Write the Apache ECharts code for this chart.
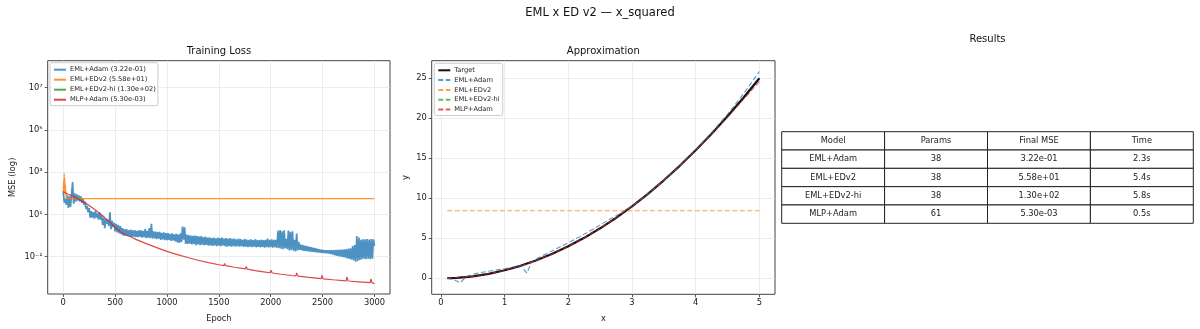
<!DOCTYPE html>
<html><head><meta charset="utf-8">
<script src="https://cdn.jsdelivr.net/npm/echarts@6/dist/echarts.min.js"></script>
<style>html,body{margin:0;padding:0;background:#fff}#c{width:1200px;height:329px}</style>
</head><body><div id="c"></div>
<script>
// ---------------- DATA ----------------
// Table / models
const tableColumns = ['Model', 'Params', 'Final MSE', 'Time'];
const tableModels = ['EML+Adam', 'EML+EDv2', 'EML+EDv2-hi', 'MLP+Adam'];
const tableParams = ['38', '38', '38', '61'];
const tableFinalMSE = ['3.22e-01', '5.58e+01', '1.30e+02', '5.30e-03'];
const tableTime = ['2.3s', '5.4s', '5.8s', '0.5s'];

// Training loss (log10 of MSE)
const epochTicks = [0, 500, 1000, 1500, 2000, 2500, 3000];
const lossLogTicks = [-1, 1, 3, 5, 7];
// EML+Adam sampled every 10 epochs (oscillating band: alternating upper / lower envelope)
const emlAdamLog10MSE = [
 2.08, 1.55, 1.75, 1.45, 1.9, 1.3, 1.85, 1.35, 1.95, 2.53,
 1.5, 2.0, 1.6, 1.95, 1.65, 1.9, 1.6, 1.85, 1.55, 1.75,
 1.45, 1.6, 1.25, 1.4, 1.1, 1.3, 0.85, 1.15, 0.85, 1.1,
 0.8, 1.15, 0.85, 1.05, 0.75, 1.1, 0.75, 0.95, 0.5, 0.85,
 0.35, 0.8, 0.55, 0.75, 0.45, 1.1, 0.3, 0.7, 0.4, 0.6,
 0.2, 0.55, 0.15, 0.5, 0.1, 0.45, 0.05, 0.35, 0.0, 0.3,
 0.0, 0.3, -0.03, 0.26, -0.05, 0.28, -0.06, 0.24, -0.05, 0.26,
 -0.07, 0.22, -0.08, 0.24, -0.06, 0.25, -0.1, 0.22, -0.08, 0.3,
 -0.12, 0.22, -0.1, 0.35, -0.12, 0.55, -0.14, 0.2, -0.13, 0.18,
 -0.17, 0.16, -0.15, 0.18, -0.2, 0.13, -0.18, 0.15, -0.22, 0.12,
 -0.22, 0.12, -0.2, 0.08, -0.25, 0.1, -0.23, 0.06, -0.28, 0.08,
 -0.32, 0.05, -0.35, 0.1, -0.3, 0.42, -0.2, 0.39, -0.4, 0.05,
 -0.4, 0.02, -0.38, 0.0, -0.42, -0.02, -0.4, 0.0, -0.45, -0.03,
 -0.42, -0.05, -0.45, -0.03, -0.43, -0.08, -0.46, -0.05, -0.44, -0.1,
 -0.48, -0.08, -0.46, -0.12, -0.49, -0.1, -0.47, -0.13, -0.5, -0.1,
 -0.48, -0.12, -0.5, -0.1, -0.47, -0.15, -0.5, -0.12, -0.52, -0.14,
 -0.5, -0.12, -0.52, -0.16, -0.5, -0.14, -0.53, -0.18, -0.5, -0.15,
 -0.52, -0.17, -0.5, -0.2, -0.54, -0.16, -0.52, -0.19, -0.55, -0.2,
 -0.53, -0.18, -0.55, -0.22, -0.52, -0.18, -0.56, -0.2, -0.54, -0.22,
 -0.56, -0.19, -0.54, -0.22, -0.57, -0.2, -0.55, -0.15, -0.56, -0.2,
 -0.55, -0.18, -0.57, -0.21, -0.55, -0.2, -0.58, 0.22, -0.6, 0.26,
 -0.62, 0.2, -0.65, 0.25, -0.6, -0.15, -0.65, 0.24, -0.7, 0.18,
 -0.68, 0.2, -0.72, -0.2, -0.75, 0.1, -0.7, -0.3, -0.68, -0.42,
 -0.7, -0.45, -0.72, -0.48, -0.74, -0.5, -0.75, -0.53, -0.76, -0.55,
 -0.77, -0.58, -0.78, -0.6, -0.79, -0.63, -0.8, -0.65, -0.81, -0.67,
 -0.82, -0.68, -0.83, -0.7, -0.84, -0.7, -0.85, -0.7, -0.87, -0.69,
 -0.9, -0.69, -0.93, -0.68, -0.96, -0.68, -0.98, -0.67, -1.0, -0.66,
 -1.02, -0.65, -1.05, -0.64, -1.08, -0.62, -1.1, -0.6, -1.14, -0.5,
 -1.18, -0.45, -1.24, -0.02, -1.2, -0.1, -1.15, -0.2, -1.12, -0.18,
 -1.1, -0.18, -1.12, -0.17, -1.1, -0.19, -1.12, -0.17, -1.1, -0.18,
 -0.49
];
const emlAdamEpochStep = 10;
const emlEdv2Epochs = [0, 3, 6, 9, 12, 15, 18, 21, 24, 27, 30, 40, 3000];
const emlEdv2Log10MSE = [2.05, 2.6, 2.1, 2.94, 2.3, 2.7, 2.0, 2.4, 1.9, 2.1, 1.75, 1.747, 1.747];
const emlEdv2HiEpochs = [];
const emlEdv2HiLog10MSE = [];
const mlpAdamEpochs = [0,25,50,100,150,200,250,300,350,400,450,500,550,600,650,700,800,900,1000,1100,1200,1300,1400,1500,1550,1555,1565,1650,1755,1763,1775,1850,1950,1995,2003,2015,2100,2200,2243,2250,2262,2350,2487,2494,2506,2600,2728,2735,2747,2850,2960,2966,2978,3000];
const mlpAdamLog10MSE = [2.08,2.0,1.95,1.84,1.72,1.58,1.42,1.24,1.05,0.85,0.62,0.38,0.18,0.04,-0.06,-0.18,-0.38,-0.57,-0.75,-0.9,-1.04,-1.17,-1.28,-1.38,-1.42,-1.32,-1.42,-1.5,-1.58,-1.47,-1.59,-1.66,-1.73,-1.76,-1.64,-1.77,-1.83,-1.89,-1.91,-1.77,-1.92,-1.97,-2.04,-1.88,-2.05,-2.09,-2.14,-1.96,-2.15,-2.19,-2.23,-2.05,-2.24,-2.276];

// Approximation
const approxXTicks = [0, 1, 2, 3, 4, 5];
const approxYTicks = [0, 5, 10, 15, 20, 25];
const targetX = [0.1,0.25,0.5,0.75,1,1.25,1.5,1.75,2,2.25,2.5,2.75,3,3.25,3.5,3.75,4,4.25,4.5,4.75,5];
const targetY = [0.01,0.06,0.25,0.56,1,1.56,2.25,3.06,4,5.06,6.25,7.56,9,10.56,12.25,14.06,16,18.06,20.25,22.56,25];
const emlAdamX = [0.1,0.2,0.3,0.4,0.5,0.6,0.8,1.0,1.2,1.26,1.35,1.42,1.5,1.6,1.8,2.0,2.2,2.4,2.6,2.8,3.0,3.25,3.5,3.75,4.0,4.25,4.5,4.75,5.0];
const emlAdamY = [0.02,-0.15,-0.55,0.2,0.5,0.68,0.95,1.2,1.5,1.55,0.65,1.96,2.45,2.85,3.65,4.45,5.3,6.2,7.15,8.05,9.0,10.55,12.25,14.05,16.0,18.2,20.5,23.05,25.85];
const emlEdv2X = [0.1, 5.0];
const emlEdv2Y = [8.45, 8.45];
const emlEdv2HiX = [];
const emlEdv2HiY = [];
const mlpAdamX = [0.1,0.25,0.5,0.75,1,1.25,1.5,1.75,2,2.25,2.5,2.75,3,3.25,3.5,3.75,4,4.25,4.5,4.75,5];
const mlpAdamY = [0.05,0.08,0.27,0.57,0.99,1.55,2.24,3.05,3.98,5.05,6.25,7.57,9.02,10.58,12.26,14.05,15.98,18.0,20.15,22.35,24.6];

// ---------------- CHART ----------------
const FONT = '"DejaVu Sans", Verdana, sans-serif';
const C = { blue: '#1f77b4', orange: '#ff7f0e', green: '#2ca02c', red: '#d62728' };
const zip = (xs, ys) => xs.map((x, i) => [x, ys[i]]);
const SUP = { '-': '\u207b', '0': '\u2070', '1': '\u00b9', '2': '\u00b2', '3': '\u00b3', '4': '\u2074', '5': '\u2075', '6': '\u2076', '7': '\u2077', '8': '\u2078', '9': '\u2079' };
const sup = v => String(v).split('').map(ch => SUP[ch] || ch).join('');

const lossNames = tableModels.map((m, i) => `${m} (${tableFinalMSE[i]})`);
const emlAdamData = emlAdamLog10MSE.map((v, i) => [i * emlAdamEpochStep, v]);

const axisText = { color: '#222', fontFamily: FONT, fontSize: 8.3 };
const splitLine = { show: true, lineStyle: { color: '#e5e5e5', width: 0.7 } };
const tick = (vals) => ({ show: true, inside: false, length: 3, lineStyle: { color: '#333', width: 0.8 }, customValues: vals });
const noLine = { show: false, onZero: false };
const plain = v => String(v);

const cells = [];
const cellText = [];
tableColumns.forEach((c, j) => { cells.push([j, 0]); cellText.push(c); });
const cols = [tableModels, tableParams, tableFinalMSE, tableTime];
tableModels.forEach((m, i) => cols.forEach((col, j) => { cells.push([j, i + 1]); cellText.push(col[i]); }));

const legendBase = {
  orient: 'vertical', itemWidth: 12, itemHeight: 7, backgroundColor: 'rgba(255,255,255,0.8)', borderColor: '#ccc', borderWidth: 1, borderRadius: 2,
  itemStyle: { opacity: 0 },
  textStyle: { fontFamily: FONT, fontSize: 6.7, color: '#222', lineHeight: 7, padding: [0, 0, 0, -1] }
};

const chart = echarts.init(document.getElementById('c'), null, { renderer: 'canvas' });
const option = {
  animation: false,
  backgroundColor: '#fff',
  textStyle: { fontFamily: FONT },
  graphic: [
    { type: 'text', x: 600, y: 13.5, style: { text: 'EML x ED v2 \u2014 x_squared', font: '11.5px ' + FONT, fill: '#111', align: 'center', verticalAlign: 'middle' } },
    { type: 'text', x: 219, y: 51, style: { text: 'Training Loss', font: '10px ' + FONT, fill: '#111', align: 'center', verticalAlign: 'middle' } },
    { type: 'text', x: 603.3, y: 51, style: { text: 'Approximation', font: '10px ' + FONT, fill: '#111', align: 'center', verticalAlign: 'middle' } },
    { type: 'text', x: 987.5, y: 39, style: { text: 'Results', font: '10px ' + FONT, fill: '#111', align: 'center', verticalAlign: 'middle' } }
  ],
  grid: [
    { left: 47.7, top: 60.7, width: 342.3, height: 233.3, show: true, borderColor: '#444', borderWidth: 1, backgroundColor: 'transparent', containLabel: false },
    { left: 431.7, top: 60.7, width: 343.3, height: 233.6, show: true, borderColor: '#444', borderWidth: 1, backgroundColor: 'transparent', containLabel: false },
    { left: 781.7, top: 131.7, width: 411.6, height: 91.6, show: false, containLabel: false }
  ],
  legend: [
    Object.assign({}, legendBase, { data: lossNames, left: 50, top: 62.7, itemGap: 3, padding: [3.5, 2, 2.5, 3] }),
    Object.assign({}, legendBase, { data: ['Target'].concat(tableModels), left: 434.3, top: 63.3, itemGap: 2.8, padding: [3.5, 3, 2.5, 3] })
  ],
  xAxis: [
    { gridIndex: 0, type: 'value', min: -150, max: 3150, name: 'Epoch', nameLocation: 'middle', nameGap: 21, nameTextStyle: axisText,
      axisLine: noLine, axisTick: tick(epochTicks), axisLabel: Object.assign({ margin: 5, customValues: epochTicks, formatter: plain }, axisText), splitLine: splitLine },
    { gridIndex: 1, type: 'value', min: -0.145, max: 5.245, name: 'x', nameLocation: 'middle', nameGap: 21, nameTextStyle: axisText,
      axisLine: noLine, axisTick: tick(approxXTicks), axisLabel: Object.assign({ margin: 5, customValues: approxXTicks, formatter: plain }, axisText), splitLine: splitLine },
    { gridIndex: 2, type: 'category', data: tableColumns, show: false }
  ],
  yAxis: [
    { gridIndex: 0, type: 'value', min: -2.764, max: 8.267, name: 'MSE (log)', nameLocation: 'middle', nameGap: 31, nameTextStyle: axisText,
      axisLine: noLine, axisTick: tick(lossLogTicks),
      axisLabel: Object.assign({ margin: 5, customValues: lossLogTicks, formatter: v => '10' + sup(v) }, axisText), splitLine: splitLine },
    { gridIndex: 1, type: 'value', min: -2.0, max: 27.2, name: 'y', nameLocation: 'middle', nameGap: 22, nameTextStyle: axisText,
      axisLine: noLine, axisTick: tick(approxYTicks), axisLabel: Object.assign({ margin: 5, customValues: approxYTicks, formatter: plain }, axisText), splitLine: splitLine },
    { gridIndex: 2, type: 'category', data: ['h', 'r1', 'r2', 'r3', 'r4'], inverse: true, show: false }
  ],
  series: [
    { name: lossNames[0], type: 'line', xAxisIndex: 0, yAxisIndex: 0, data: emlAdamData, symbol: 'none', color: C.blue,
      lineStyle: { width: 1.7, color: C.blue, opacity: 0.8 }, sampling: null, clip: true },
    { name: lossNames[1], type: 'line', xAxisIndex: 0, yAxisIndex: 0, data: zip(emlEdv2Epochs, emlEdv2Log10MSE), symbol: 'none', color: C.orange,
      lineStyle: { width: 1.2, color: C.orange, opacity: 0.85 }, clip: true },
    { name: lossNames[2], type: 'line', xAxisIndex: 0, yAxisIndex: 0, data: zip(emlEdv2HiEpochs, emlEdv2HiLog10MSE), symbol: 'none', color: C.green,
      lineStyle: { width: 1.2, color: C.green, opacity: 0.85 }, clip: true },
    { name: lossNames[3], type: 'line', xAxisIndex: 0, yAxisIndex: 0, data: zip(mlpAdamEpochs, mlpAdamLog10MSE), symbol: 'none', color: C.red,
      lineStyle: { width: 1.2, color: C.red, opacity: 0.85 }, clip: true },

    { name: 'Target', type: 'line', xAxisIndex: 1, yAxisIndex: 1, data: zip(targetX, targetY), symbol: 'none', color: '#111',
      lineStyle: { width: 2.2, color: '#111' } },
    { name: 'EML+Adam', type: 'line', xAxisIndex: 1, yAxisIndex: 1, data: zip(emlAdamX, emlAdamY), symbol: 'none', color: C.blue,
      lineStyle: { width: 1.1, color: C.blue, type: [5, 2.5], opacity: 0.75 } },
    { name: 'EML+EDv2', type: 'line', xAxisIndex: 1, yAxisIndex: 1, data: zip(emlEdv2X, emlEdv2Y), symbol: 'none', color: C.orange,
      lineStyle: { width: 1.1, color: C.orange, type: [5, 2.5], opacity: 0.75 } },
    { name: 'EML+EDv2-hi', type: 'line', xAxisIndex: 1, yAxisIndex: 1, data: zip(emlEdv2HiX, emlEdv2HiY), symbol: 'none', color: C.green,
      lineStyle: { width: 1.1, color: C.green, type: [5, 2.5], opacity: 0.75 } },
    { name: 'MLP+Adam', type: 'line', xAxisIndex: 1, yAxisIndex: 1, data: zip(mlpAdamX, mlpAdamY), symbol: 'none', color: C.red,
      lineStyle: { width: 1.1, color: C.red, type: [5, 2.5], opacity: 0.75 } },

    { name: 'table', type: 'custom', xAxisIndex: 2, yAxisIndex: 2, data: cells, silent: true,
      renderItem: function (params, api) {
        const c = api.coord([api.value(0), api.value(1)]);
        const s = api.size([1, 1]);
        return { type: 'group', children: [
          { type: 'rect', shape: { x: c[0] - s[0] / 2, y: c[1] - s[1] / 2, width: s[0], height: s[1] }, style: { fill: '#fff', stroke: '#222', lineWidth: 1 } },
          { type: 'text', x: c[0], y: c[1], style: { text: cellText[params.dataIndex], align: 'center', verticalAlign: 'middle', fill: '#222', font: '8.3px ' + FONT } }
        ] };
      } }
  ]
};
chart.setOption(option);
</script>
</body></html>
